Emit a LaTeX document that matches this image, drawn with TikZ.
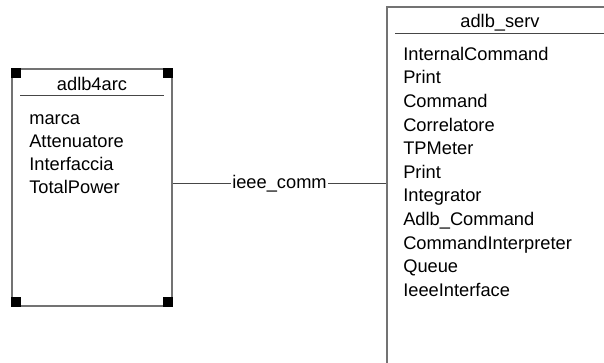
\documentclass[tikz,border=0pt]{standalone}
\usepackage{fontspec}
\setmainfont{Liberation Sans}
\usetikzlibrary{positioning}
\definecolor{boxline}{RGB}{115,115,115}
\definecolor{rule}{RGB}{70,70,70}
\tikzset{
  classbox/.style={draw=boxline, line width=1.3pt, rectangle, inner sep=0pt},
  corner/.style={fill=black, minimum size=0.25cm, inner sep=0pt},
  item/.style={anchor=west, inner sep=0pt, text height=9.5pt, text depth=2.5pt, font=\fontsize{13}{15}\selectfont},
  title/.style={inner sep=0pt, text height=9.5pt, text depth=2.5pt, font=\fontsize{13}{15}\selectfont}
}
\begin{document}
\begin{tikzpicture}
    \useasboundingbox (0,0) rectangle (15.1,9.075);
    \node[classbox, minimum width=4cm, minimum height=5.925cm] (arc) at (2.3, 4.3875) {};
    \node[classbox, minimum width=6.4cm, minimum height=10cm] (serv) at (12.875, 3.9) {};
    % corner marks
    \node[corner, anchor=north west] (c1) at (arc.north west) {};
    \node[corner, anchor=north east] (c2) at (arc.north east) {};
    \node[corner, anchor=south west] (c3) at (arc.south west) {};
    \node[corner, anchor=south east] (c4) at (arc.south east) {};
    % adlb4arc
    \node[title] (arctitle) at (2.3, 6.94) {adlb4arc};
    \draw[rule, line width=0.6pt] (0.5, 6.7) -- (4.1, 6.7);
    \node[item] (marca) at (0.725, 6.09) {marca};
    \node[item] (atten) at (0.725, 5.51) {Attenuatore};
    \node[item] (inter) at (0.725, 4.93) {Interfaccia};
    \node[item] (total) at (0.725, 4.35) {TotalPower};
    % adlb_serv
    \node[title] (servtitle) at (12.5, 8.52) {adlb\_serv};
    \draw[rule, line width=0.6pt] (9.875, 8.25) -- (15.5, 8.25);
    \node[item] (s1) at (10.075, 7.69) {InternalCommand};
    \node[item] (s2) at (10.075, 7.10) {Print};
    \node[item] (s3) at (10.075, 6.51) {Command};
    \node[item] (s4) at (10.075, 5.92) {Correlatore};
    \node[item] (s5) at (10.075, 5.33) {TPMeter};
    \node[item] (s6) at (10.075, 4.74) {Print};
    \node[item] (s7) at (10.075, 4.15) {Integrator};
    \node[item] (s8) at (10.075, 3.56) {Adlb\_Command};
    \node[item] (s9) at (10.075, 2.97) {CommandInterpreter};
    \node[item] (s10) at (10.075, 2.38) {Queue};
    \node[item] (s11) at (10.075, 1.79) {IeeeInterface};
    % link
    \coordinate (link) at ([yshift=0.1cm]arc.east);
    \draw[rule, line width=0.6pt] (link) -- node[title, text=black, fill=white, inner xsep=1pt] (comm) {ieee\_comm} (link -| serv.west);
  \end{tikzpicture}
\end{document}
